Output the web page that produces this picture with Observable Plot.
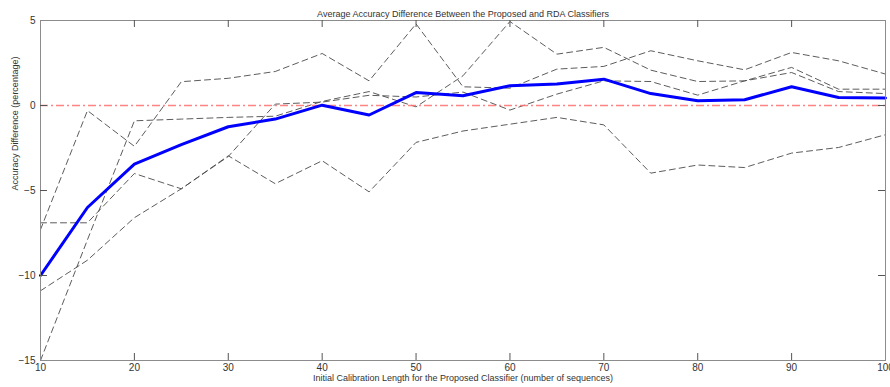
<!DOCTYPE html>
<html>
<head>
<meta charset="utf-8">
<script src="https://cdn.jsdelivr.net/npm/d3@7"></script>
<script src="https://cdn.jsdelivr.net/npm/@observablehq/plot@0.6"></script>
<style>
  html, body { margin: 0; padding: 0; background: #fff; }
  #chart svg { display: block; }
</style>
</head>
<body>
<div id="chart"></div>
<script>
// Initial calibration length (number of sequences)
const lengths = [10, 15, 20, 25, 30, 35, 40, 45, 50, 55, 60, 65, 70, 75, 80, 85, 90, 95, 100];

// Average accuracy difference (thick blue line)
const meanDiff = [-10.0, -6.0, -3.45, -2.3, -1.25, -0.8, 0.02, -0.56, 0.76, 0.57, 1.16, 1.26, 1.55, 0.7, 0.28, 0.34, 1.1, 0.47, 0.44];

// Individual dashed curves
const subject1 = [-7.3, -0.3, -2.4, 1.4, 1.6, 2.0, 3.06, 1.45, 4.8, 1.1, 1.02, 2.14, 2.3, 3.22, 2.63, 2.1, 3.12, 2.63, 1.85];
const subject2 = [-15.0, -7.9, -0.9, -0.8, -0.7, -0.63, 0.24, 0.82, -0.08, 1.75, 4.94, 3.02, 3.42, 2.08, 1.41, 1.45, 2.24, 0.96, 0.96];
const subject3 = [-10.9, -9.1, -6.6, -4.9, -3.0, 0.08, 0.2, 0.6, 0.5, 0.79, -0.27, 0.67, 1.45, 1.41, 0.61, 1.45, 1.94, 0.82, 0.7];
const subject4 = [-6.9, -6.9, -4.0, -4.9, -2.96, -4.6, -3.25, -5.08, -2.17, -1.5, -1.1, -0.7, -1.14, -3.98, -3.5, -3.65, -2.8, -2.47, -1.72];

// Reference line and ticks
const zeroLine = [0];
const xTickLabels = [10, 20, 30, 40, 50, 60, 70, 80, 90, 100];
const xInnerTicks = [20, 30, 40, 50, 60, 70, 80, 90];
const yTickLabels = [-15, -10, -5, 0, 5];
const yInnerTicks = [-10, -5, 0];

const titleText = "Average Accuracy Difference Between the Proposed and RDA Classifiers";
const xLabelText = "Initial Calibration Length for the Proposed Classifier (number of sequences)";
const yLabelText = "Accuracy Difference (percentage)";

const subjects = [
  {name: "S1", values: subject1},
  {name: "S2", values: subject2},
  {name: "S3", values: subject3},
  {name: "S4", values: subject4}
];
const subjectRows = subjects.flatMap(s => lengths.map((x, i) => ({x, y: s.values[i], name: s.name})));
const meanRows = lengths.map((x, i) => ({x, y: meanDiff[i]}));

const font = "'Liberation Sans', Arial, Helvetica, sans-serif";

const chart = Plot.plot({
  width: 890,
  height: 387,
  marginLeft: 40,
  marginRight: 5,
  marginTop: 20,
  marginBottom: 27,
  style: {fontFamily: font, fontSize: "10px", color: "#333", background: "#fff", overflow: "visible"},
  x: {domain: [10, 100]},
  y: {domain: [-15, 5]},
  marks: [
    Plot.line(subjectRows, {x: "x", y: "y", z: "name", stroke: "#4a4a4a", strokeWidth: 0.9, strokeDasharray: "6,4"}),
    Plot.ruleY(zeroLine, {stroke: "#ff7070", strokeOpacity: 0.85, strokeWidth: 1.3, strokeDasharray: "8,3,2,3"}),
    Plot.line(meanRows, {x: "x", y: "y", stroke: "#0000ff", strokeWidth: 3, strokeLinejoin: "round"}),
    Plot.frame({stroke: "#8c8c8c", strokeWidth: 1}),
    Plot.tickX(xInnerTicks, {x: d => d, insetTop: 333, stroke: "#555"}),
    Plot.tickX(xInnerTicks, {x: d => d, insetBottom: 333, stroke: "#555"}),
    Plot.tickY(yInnerTicks, {y: d => d, insetRight: 838, stroke: "#555"}),
    Plot.tickY(yInnerTicks, {y: d => d, insetLeft: 838, stroke: "#555"}),
    Plot.axisX(xTickLabels, {tickSize: 0, tickPadding: 3, label: null, fill: "#333", fontSize: 10}),
    Plot.axisY(yTickLabels, {tickSize: 0, tickPadding: 5, label: null, fill: "#333", fontSize: 10}),
    Plot.text([titleText], {frameAnchor: "top", dy: -10, fill: "#333", fontSize: 9}),
    Plot.text([xLabelText], {frameAnchor: "bottom", dy: 20, fill: "#333", fontSize: 9}),
    Plot.text([yLabelText], {frameAnchor: "left", dx: -25, rotate: -90, fill: "#333", fontSize: 9})
  ]
});
document.getElementById("chart").appendChild(chart);
</script>
</body>
</html>
